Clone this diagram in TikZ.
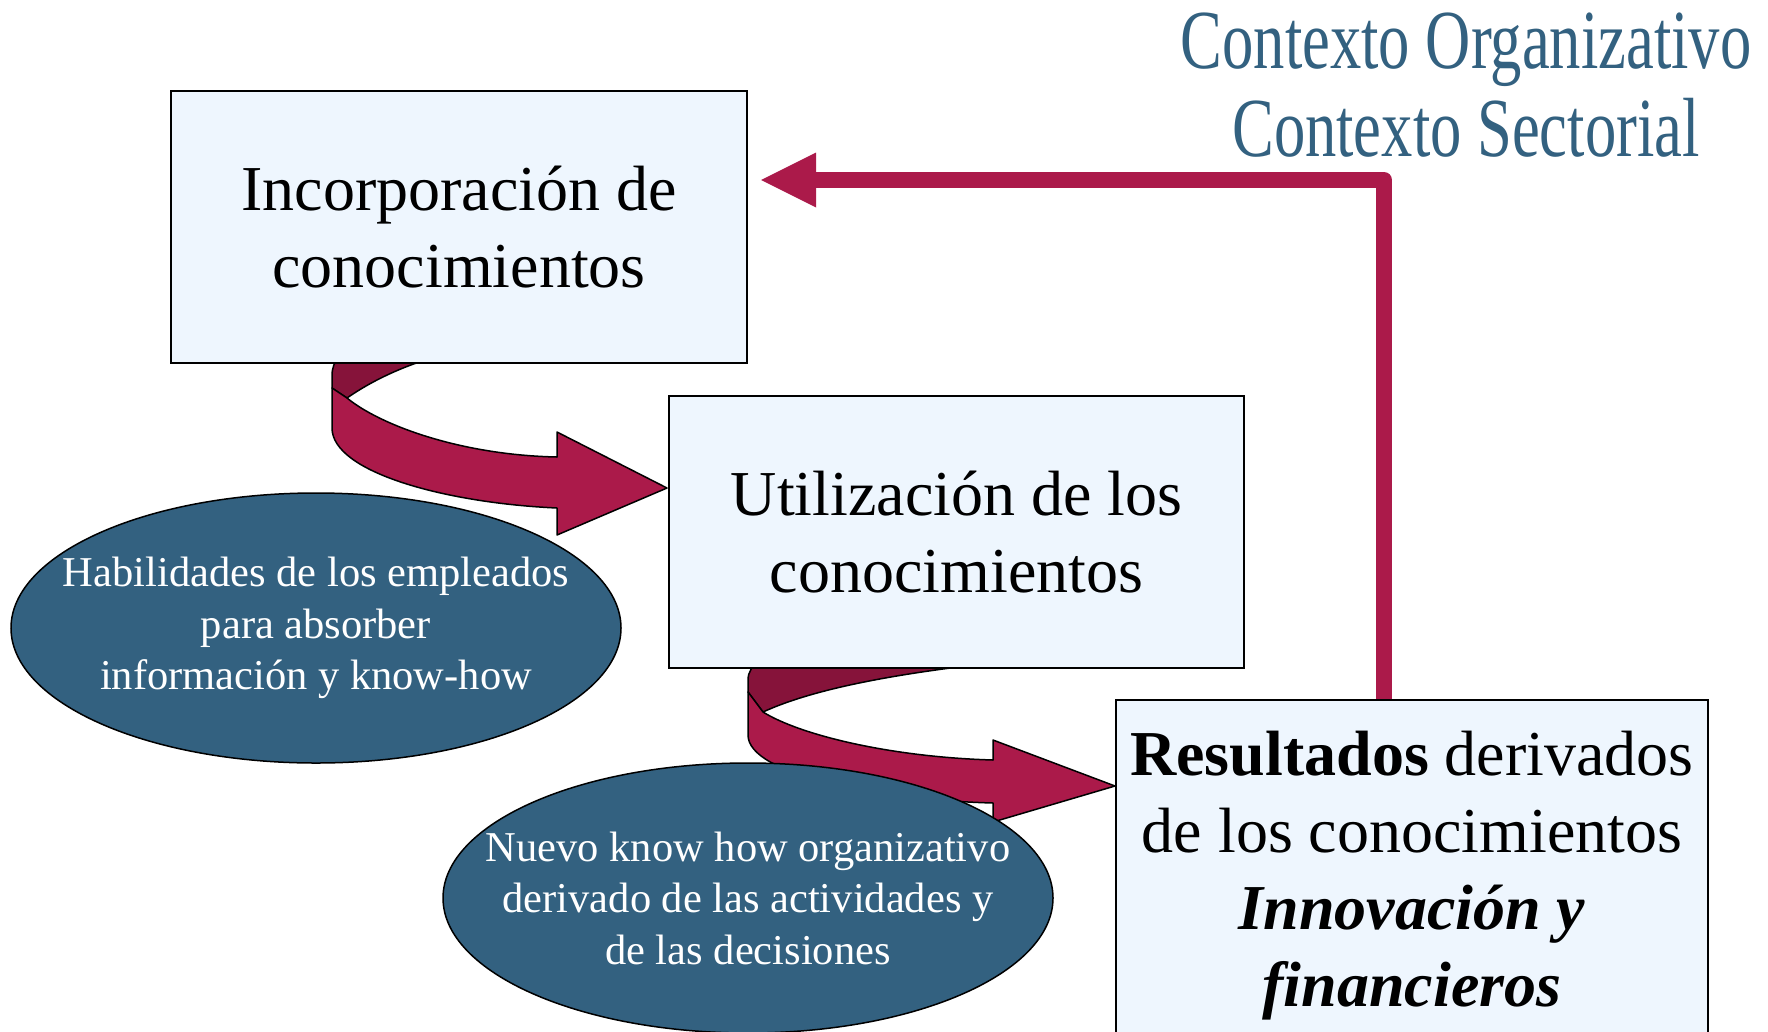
\documentclass[tikz,border=0pt]{standalone}
\usepackage{fontspec}
\setmainfont{Liberation Serif}
\usepackage{graphicx}
\usetikzlibrary{shapes.geometric,calc}
\definecolor{crim}{HTML}{AB1A4A}
\definecolor{crimdark}{HTML}{86133A}
\definecolor{steel}{HTML}{336180}
\definecolor{boxfill}{HTML}{EEF6FE}
\begin{document}
\begin{tikzpicture}[x=1pt,y=-1pt,
  kbox/.style={draw=black,line width=2pt,fill=boxfill,align=center,inner sep=0pt,font=\fontsize{64}{77}\selectfont},
  kell/.style={ellipse,draw=black,line width=1.5pt,fill=steel,text=white,align=center,inner xsep=-60pt,inner ysep=-12pt,minimum width=610pt,minimum height=270pt,font=\fontsize{42.5}{51.5}\selectfont},
  ribbon/.style={fill=crim,draw=black,line width=1.5pt,line join=round},
  ribbonback/.style={fill=crimdark,draw=black,line width=1.5pt,line join=round},
  fb/.style={draw=crim,line width=16pt,line join=round},
  title/.style={text=steel,font=\fontsize{84}{88}\selectfont,inner sep=0pt,anchor=base}]
\useasboundingbox (0,0) rectangle (1768,1031);
\clip (0,0) rectangle (1768,1031);
% feedback connector
\coordinate (fbs) at (1384,699);
\coordinate (fbtip) at (761,180);
\draw[fb] (fbs) |- ($(fbtip)+(55,0)$);
\fill[crim] (fbtip) -- ++(55,-27.5) -- ++(0,55) -- cycle;
% ribbon arrow 1
\path[ribbonback] (340,356) .. controls (334,362) and (332,368) .. (332,376) -- (332,388) -- (347,398)
  .. controls (370,382) and (400,367) .. (438,356) -- cycle;
\path[ribbon] (332,388) -- (332,428) .. controls (332,472) and (445,503) .. (557,508)
  -- (557,535) -- (667,488) -- (557,432) -- (557,457)
  .. controls (460,455) and (380,425) .. (347,398) -- cycle;
% ribbon arrow 2
\path[ribbonback] (760,660) .. controls (752,666) and (748,672) .. (748,680) -- (748,692) -- (763,712)
  .. controls (815,688) and (900,673) .. (1000,662) -- cycle;
\path[ribbon] (748,692) -- (748,735) .. controls (748,775) and (880,800) .. (993,803)
  -- (993,822) -- (1115,786) -- (993,740) -- (993,760)
  .. controls (890,757) and (800,735) .. (763,712) -- cycle;
% boxes
\node[kbox,minimum width=576pt,minimum height=272pt] (inc) at (459,227) {Incorporación de\\conocimientos};
\node[kbox,minimum width=575pt,minimum height=272pt] (uti) at (956.5,532) {Utilización de los\\conocimientos};
\node[kbox,minimum width=592pt,minimum height=352pt] (res) at (1412,876) {\textbf{Resultados} derivados\\de los conocimientos\\\textbf{\textit{Innovación y}}\\\textbf{\textit{financieros}}};
% ellipses
\node[kell] (hab) at (316,628) {Habilidades de los empleados\\para absorber\\información y know-how};
\node[kell] (nue) at (748,898) {Nuevo know how organizativo\\derivado de las actividades y\\de las decisiones};
% title
\node[title] (t1) at (1466,68) {\scalebox{0.745}[1]{Contexto Organizativo}};
\node[title] (t2) at (1466,156) {\scalebox{0.745}[1]{Contexto Sectorial}};
\end{tikzpicture}
\end{document}
